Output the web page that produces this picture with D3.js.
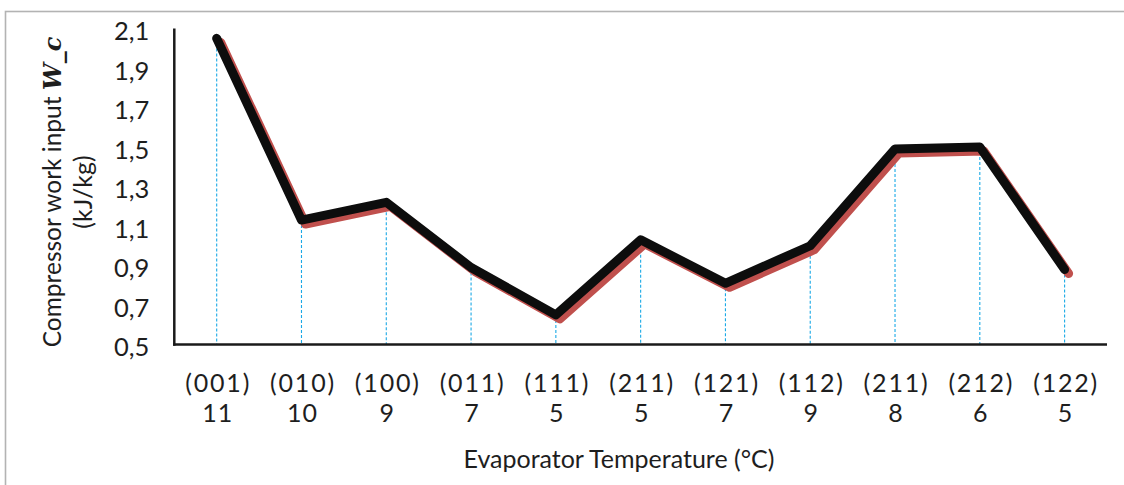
<!DOCTYPE html>
<html>
<head>
<meta charset="utf-8">
<script src="https://cdn.jsdelivr.net/npm/d3@7/dist/d3.min.js"></script>
<style>
  html, body { margin: 0; padding: 0; background: #fff; }
  svg { display: block; }
  text { font-family: Lato, "Open Sans", sans-serif; fill: #1e1e1e; }
</style>
</head>
<body>
<svg id="chart" width="1124" height="485"></svg>
<script>
// Compressor configuration codes and evaporator temperatures (°C)
const configs = ["(001)", "(010)", "(100)", "(011)", "(111)", "(211)", "(121)", "(112)", "(211)", "(212)", "(122)"];
const evapTemps = [11, 10, 9, 7, 5, 5, 7, 9, 8, 6, 5];
// Compressor work input W_c (kJ/kg)
const workInput = [2.05, 1.13, 1.22, 0.89, 0.65, 1.03, 0.81, 1.00, 1.49, 1.50, 0.88];
// Value axis ticks
const yTicks = [0.5, 0.7, 0.9, 1.1, 1.3, 1.5, 1.7, 1.9, 2.1];

const svg = d3.select("#chart");
const W = 1124, H = 485;
const plot = { left: 174.3, right: 1107, top: 28.5, bottom: 344.5 };

// Outer frame
svg.append("rect")
  .attr("x", 5.5).attr("y", 11.5)
  .attr("width", W + 20).attr("height", H + 20)
  .attr("fill", "#fff")
  .attr("stroke", "#b3b3b3").attr("stroke-width", 1.6);

const idx = configs.map((d, i) => i);
const x = d3.scalePoint().domain(idx).range([plot.left, plot.right]).padding(0.5);
const y = d3.scaleLinear().domain([0.5, 2.1]).range([plot.bottom, plot.top]);

const fmt = v => d3.format(".1f")(v).replace(".", ",");

// Y axis (no tick marks, labels only)
const yAxis = d3.axisLeft(y).tickValues(yTicks).tickSize(0).tickPadding(25).tickFormat(fmt);
const gy = svg.append("g").attr("transform", `translate(${plot.left},0)`).call(yAxis);
gy.select(".domain").remove();
gy.selectAll("text")
  .attr("font-family", "Lato, sans-serif")
  .attr("font-size", 25.5)
  .attr("fill", "#1e1e1e")
  .attr("dy", "0.45em");

// X axis labels: configuration code on top, temperature beneath
const xAxis = d3.axisBottom(x).tickSize(0).tickFormat(() => "");
const gx = svg.append("g").attr("transform", `translate(0,${plot.bottom})`).call(xAxis);
gx.select(".domain").remove();
gx.selectAll(".tick text").remove();
gx.selectAll(".tick").each(function (i) {
  const t = d3.select(this);
  t.append("text")
    .attr("y", 391.5 - plot.bottom)
    .attr("x", 1)
    .attr("text-anchor", "middle")
    .attr("font-size", 25)
    .attr("letter-spacing", "1.8px")
    .text(configs[i]);
  t.append("text")
    .attr("y", 422 - plot.bottom)
    .attr("x", 0.5)
    .attr("text-anchor", "middle")
    .attr("font-size", 25)
    .attr("letter-spacing", "1px")
    .text(evapTemps[i]);
});

// Drop lines from each point to the category axis
svg.append("g").selectAll("line")
  .data(workInput)
  .join("line")
  .attr("x1", (d, i) => x(i)).attr("x2", (d, i) => x(i))
  .attr("y1", d => y(d)).attr("y2", plot.bottom)
  .attr("stroke", "#1aa9e6")
  .attr("stroke-width", 1.1)
  .attr("stroke-dasharray", "3,2");

const line = d3.line().x((d, i) => x(i)).y(d => y(d));

// Offset shadow of the series
svg.append("path")
  .datum(workInput)
  .attr("d", line)
  .attr("transform", "translate(4,4)")
  .attr("fill", "none")
  .attr("stroke", "#c0504d")
  .attr("stroke-width", 9)
  .attr("stroke-linejoin", "round")
  .attr("stroke-linecap", "round");

// Main series line
svg.append("path")
  .datum(workInput)
  .attr("d", line)
  .attr("fill", "none")
  .attr("stroke", "#0d0d0d")
  .attr("stroke-width", 9)
  .attr("stroke-linejoin", "round")
  .attr("stroke-linecap", "round");

// Axis lines
svg.append("line")
  .attr("x1", plot.left).attr("x2", plot.left)
  .attr("y1", plot.top).attr("y2", plot.bottom + 1.2)
  .attr("stroke", "#1a1a1a").attr("stroke-width", 2.5);
svg.append("line")
  .attr("x1", plot.left - 1.2).attr("x2", plot.right)
  .attr("y1", plot.bottom).attr("y2", plot.bottom)
  .attr("stroke", "#1a1a1a").attr("stroke-width", 2.5);

// Axis titles
svg.append("text")
  .attr("x", 619).attr("y", 468)
  .attr("text-anchor", "middle")
  .attr("font-size", 25)
  .text("Evaporator Temperature (°C)");

const yt = svg.append("text")
  .attr("transform", "translate(61,192) rotate(-90)")
  .attr("text-anchor", "middle")
  .attr("font-size", 24.5);
yt.append("tspan").text("Compressor work input ");
yt.append("tspan")
  .attr("font-family", "'DejaVu Serif', serif")
  .attr("font-weight", "bold")
  .attr("font-style", "italic")
  .attr("font-size", 24)
  .text("W_c");

svg.append("text")
  .attr("transform", "translate(91.5,192) rotate(-90)")
  .attr("text-anchor", "middle")
  .attr("font-size", 25)
  .text("(kJ/kg)");
</script>
</body>
</html>
